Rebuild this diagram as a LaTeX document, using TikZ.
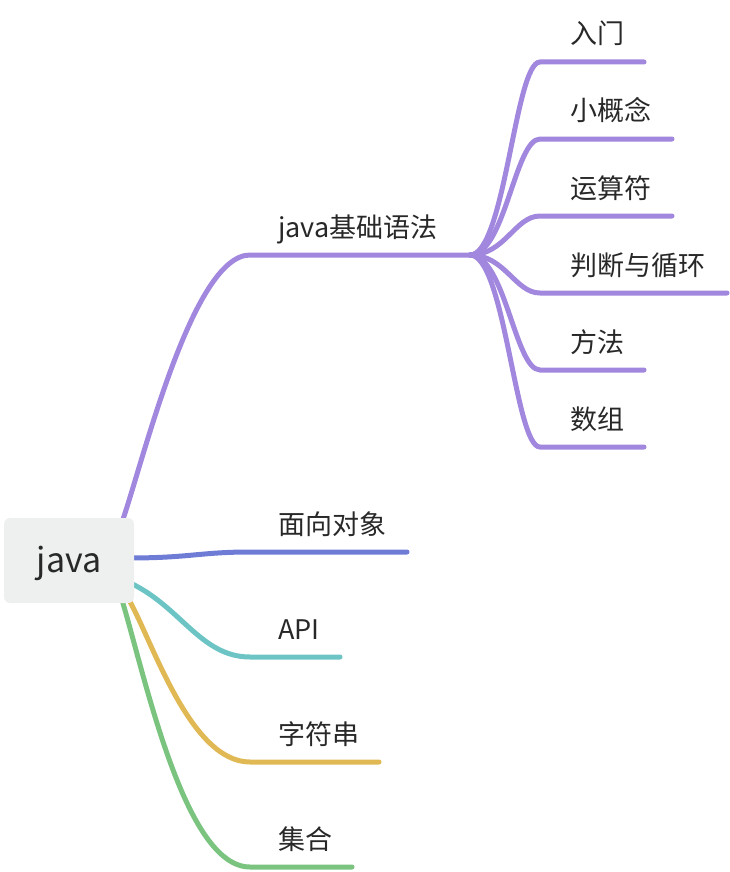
\documentclass[tikz,border=0pt]{standalone}
\usepackage{fontspec}
\setmainfont{Noto Sans CJK SC}
\usetikzlibrary{backgrounds}
\definecolor{cpurple}{RGB}{161,135,221}
\definecolor{cblue}{RGB}{110,124,214}
\definecolor{cteal}{RGB}{108,196,196}
\definecolor{cyellow}{RGB}{224,185,85}
\definecolor{cgreen}{RGB}{122,196,128}
\definecolor{cbox}{RGB}{238,240,240}
\definecolor{ctext}{RGB}{40,40,40}
\begin{document}
\begin{tikzpicture}[x=1pt,y=-1pt,
  root/.style={fill=cbox, rounded corners=6pt, minimum width=130pt, minimum height=85pt,
    inner sep=0pt, font=\fontsize{34}{40}\selectfont, text=ctext},
  lbl/.style={anchor=base west, inner sep=0pt, font=\fontsize{27}{32}\selectfont, text=ctext},
  branch/.style={line width=5pt, line cap=round}
]
\useasboundingbox (0,0) rectangle (730,872);

\node[root] (java) at (69,560.5) {};
\node[anchor=base, inner sep=0pt, font=\fontsize{34}{40}\selectfont, text=ctext] (javat) at (69,572) {java};

% main branch labels
\node[lbl] (jc)  at (278,237) {java基础语法};
\node[lbl] (mx)  at (278,534) {面向对象};
\node[lbl] (api) at (278,639) {API};
\node[lbl] (zfc) at (278,744) {字符串};
\node[lbl] (jh)  at (278,849) {集合};

% child labels
\node[lbl] (c1) at (570,44)  {入门};
\node[lbl] (c2) at (570,121) {小概念};
\node[lbl] (c3) at (570,198) {运算符};
\node[lbl] (c4) at (570,275) {判断与循环};
\node[lbl] (c5) at (570,352) {方法};
\node[lbl] (c6) at (570,429) {数组};

% coordinates
\coordinate (s1) at (122,522);
\coordinate (s2) at (128,558);
\coordinate (s3) at (128,582);
\coordinate (s4) at (129,600);
\coordinate (s5) at (122,600);
\coordinate (hub) at (470,255);
\coordinate (e1) at (250,255);
\coordinate (e2) at (407,552);
\coordinate (e3) at (340,657);
\coordinate (e4) at (379,762);
\coordinate (e5) at (352,867);
\coordinate (k1) at (644,62);
\coordinate (k2) at (672,139);
\coordinate (k3) at (672,216);
\coordinate (k4) at (727,293);
\coordinate (k5) at (644,370);
\coordinate (k6) at (644,447);

\begin{scope}[on background layer]
\draw[branch, cpurple] (s1) .. controls (142,466) and (192,255) .. (e1) -- (hub);
\draw[branch, cblue] (s2) .. controls (190,558) and (200,552) .. (250,552) -- (e2);
\draw[branch, cteal] (s3) .. controls (180,605) and (200,657) .. (250,657) -- (e3);
\draw[branch, cyellow] (s4) .. controls (152,640) and (190,762) .. (250,762) -- (e4);
\draw[branch, cgreen] (s5) .. controls (146,680) and (185,867) .. (250,867) -- (e5);

\foreach \y/\k in {62/k1,139/k2,216/k3,293/k4,370/k5,447/k6}{
  \draw[branch, cpurple] (hub) .. controls (505,255) and (515,\y) .. (540,\y) -- (\k);
}
\end{scope}
\end{tikzpicture}
\end{document}
